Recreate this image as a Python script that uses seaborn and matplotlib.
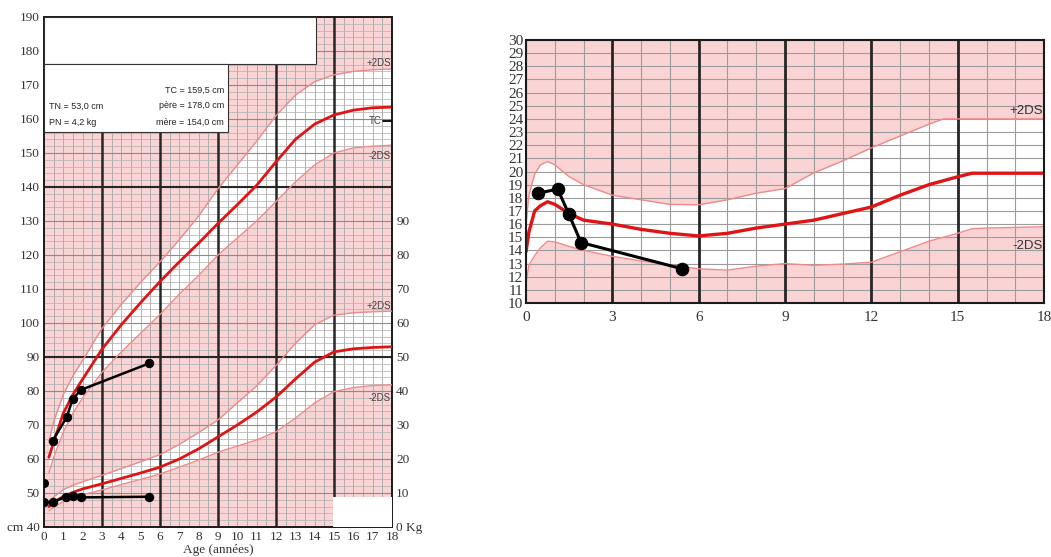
import numpy as np
import matplotlib
matplotlib.use('Agg')
import matplotlib.pyplot as plt
import seaborn as sns
from matplotlib.patches import Rectangle

# reference curves, height / weight chart
ages_ref = [0.25, 0.5, 1, 1.5, 2, 3, 4, 5, 6, 7, 8, 9, 10, 11, 12, 13, 14, 15, 16, 17, 18]
height_med = [60.5, 65, 73.5, 79, 83.5, 92.3, 99.5, 106, 112.2, 118, 123.5, 129.3, 134.8,
              140.5, 147.4, 154, 158.5, 161.2, 162.6, 163.3, 163.5]
height_hi = [65, 71, 79, 84.5, 89, 98.4, 105.5, 112, 118, 124.5, 131.5, 139.5, 146.5,
             153.5, 161, 167, 171, 173, 174, 174.5, 174.7]
height_lo = [56, 60.5, 68, 73.5, 78, 85.5, 91.5, 97, 102.5, 108.5, 114, 120, 125,
             130, 135.7, 141.5, 146.5, 150, 151.5, 152, 152.3]
weight_med = [6, 7.3, 9, 10.2, 11.2, 12.7, 14.3, 15.9, 17.6, 20, 23, 26.5, 30, 33.8,
              38.2, 43.5, 48.5, 51.5, 52.4, 52.8, 53]
weight_hi = [7.5, 8.8, 11, 12.3, 13.3, 15.2, 17.2, 19.2, 21.3, 24.3, 27.8, 31.5, 36.5,
             41.5, 47.5, 54, 59.5, 62.3, 63, 63.3, 63.5]
weight_lo = [4.8, 5.8, 7.5, 8.5, 9.5, 10.9, 12.5, 14, 15.6, 17.6, 19.7, 22, 23.8, 25.6,
             28, 32, 36.5, 39.8, 41, 41.6, 41.8]

# patient measurements
pt_h_age = [0.45, 1.17, 1.48, 1.9, 5.43]
pt_height = [65.4, 72.3, 77.6, 80.3, 88.1]
pt_w_age = [0.45, 1.14, 1.52, 1.9, 5.43]
pt_weight = [7.3, 8.9, 9.2, 8.7, 8.9]
birth_height = 53.0
birth_weight_dot = 7.4
TC = 159.5

# BMI chart
bmi_age = [0, 0.1, 0.3, 0.5, 0.75, 1, 1.5, 2, 3, 4, 5, 6, 7, 8, 9, 10, 11, 12, 13, 14,
           14.5, 15, 15.5, 16, 17, 18]
bmi_med = [13.9, 15.4, 17.0, 17.4, 17.7, 17.5, 16.8, 16.3, 16.0, 15.6, 15.3, 15.1, 15.3,
           15.7, 16.0, 16.3, 16.8, 17.3, 18.2, 19.0, 19.3, 19.6, 19.87, 19.87, 19.87, 19.87]
bmi_hi = [16, 18.2, 19.8, 20.5, 20.76, 20.5, 19.6, 19.0, 18.2, 17.85, 17.5, 17.47, 17.85,
          18.35, 18.7, 19.9, 20.8, 21.8, 22.7, 23.6, 24.0, 24.0, 24.0, 24.0, 24.0, 24.0]
bmi_lo = [11.5, 12.9, 13.6, 14.2, 14.7, 14.65, 14.3, 14.0, 13.55, 13.2, 12.9, 12.6, 12.5,
          12.8, 13.0, 12.86, 12.96, 13.1, 13.9, 14.7, 15.0, 15.3, 15.65, 15.7, 15.75, 15.8]
pt_bmi_age = [0.42, 1.10, 1.48, 1.91, 5.43]
pt_bmi = [18.35, 18.66, 16.8, 14.6, 12.6]

sns.set_theme(style='white')
plt.rcParams['font.family'] = ['Liberation Serif', 'DejaVu Serif']

PINK = '#fad4d4'
RED = '#e01414'
PALE = '#f08a8a'
THIN = '#a6a6a6'
HEAVY = '#262626'
SANS = ['Liberation Sans', 'DejaVu Sans']

fig = plt.figure(figsize=(10.51, 5.57), dpi=100)

# ---------------- height / weight chart ----------------
ax = fig.add_axes([0.0419, 0.0539, 0.3311, 0.9156])
ax.set_facecolor(PINK)
ax.set_xlim(0, 18)
ax.set_ylim(40, 190)
ax2 = ax.twinx()
ax2.set_ylim(0, 150)

ax.fill_between(ages_ref, height_lo, height_hi, color='white', lw=0, zorder=0.5)
ax.fill_between(ages_ref, weight_lo, weight_hi, color='white', lw=0, zorder=0.5,
                transform=ax2.transData)

for x in np.arange(0, 18.01, 0.5):
    ax.axvline(x, color=THIN, lw=0.6, zorder=1)
for y in range(40, 191, 2):
    ax.axhline(y, color='#b4b4b4', lw=0.55, zorder=1)
for y in range(50, 190, 10):
    ax.axhline(y, color='#8c8c8c', lw=0.8, zorder=1.1)
for y in (90, 140):
    ax.axhline(y, color=HEAVY, lw=1.5, zorder=1.2)
for x in range(3, 18, 3):
    ax.axvline(x, color=HEAVY, lw=1.8, zorder=1.2)

sns.lineplot(x=ages_ref, y=height_hi, ax=ax, color=PALE, lw=1, zorder=2)
sns.lineplot(x=ages_ref, y=height_lo, ax=ax, color=PALE, lw=1, zorder=2)
sns.lineplot(x=ages_ref, y=height_med, ax=ax, color=RED, lw=2, zorder=2.1)
sns.lineplot(x=pt_h_age, y=pt_height, ax=ax, color='black', lw=1.8, marker='o',
             markersize=6, markeredgecolor='black', zorder=3)
ax.scatter([0], [birth_height], s=30, color='black', zorder=3)

sns.lineplot(x=ages_ref, y=weight_hi, ax=ax2, color=PALE, lw=1, zorder=2)
sns.lineplot(x=ages_ref, y=weight_lo, ax=ax2, color=PALE, lw=1, zorder=2)
sns.lineplot(x=ages_ref, y=weight_med, ax=ax2, color=RED, lw=2, zorder=2.1)
sns.lineplot(x=pt_w_age, y=pt_weight, ax=ax2, color='black', lw=1.8, marker='o',
             markersize=6, markeredgecolor='black', zorder=3)
ax2.scatter([0], [birth_weight_dot], s=30, color='black', zorder=3)

# information boxes
ax.add_patch(Rectangle((0, 0.9078), 0.7816, 0.0922, transform=ax.transAxes,
                       facecolor='white', edgecolor='#333333', lw=0.8, zorder=5))
ax.add_patch(Rectangle((0, 0.7745), 0.5287, 0.1333, transform=ax.transAxes,
                       facecolor='white', edgecolor='#333333', lw=0.8, zorder=5))
ax.add_patch(Rectangle((0.83, 0), 0.17, 0.058, transform=ax.transAxes,
                       facecolor='white', edgecolor='none', zorder=5))
box_kw = dict(transform=ax.transAxes, fontsize=6.5, family=SANS, color='#222222',
              va='center', zorder=6)
ax.text(0.517, 0.857, 'TC = 159,5 cm', ha='right', **box_kw)
ax.text(0.0144, 0.8255, 'TN = 53,0 cm', ha='left', **box_kw)
ax.text(0.517, 0.8255, 'père = 178,0 cm', ha='right', **box_kw)
ax.text(0.0144, 0.794, 'PN = 4,2 kg', ha='left', **box_kw)
ax.text(0.517, 0.794, 'mère = 154,0 cm', ha='right', **box_kw)

lab_kw = dict(fontsize=7, family=SANS, color='#444444', ha='right', va='center', zorder=6)
ax.text(17.95, 176.5, '+2DS', **lab_kw)
ax.text(17.95, 149, '-2DS', **lab_kw)
ax.text(17.45, TC, 'TC', **lab_kw)
ax.plot([17.55, 18], [TC, TC], color='black', lw=1.3, zorder=6)
ax2.text(17.95, 65, '+2DS', **lab_kw)
ax2.text(17.95, 38, '-2DS', **lab_kw)

ax.set_xticks(range(0, 19))
ax.set_yticks(range(40, 191, 10))
ax.set_yticklabels(['cm 40'] + [str(v) for v in range(50, 191, 10)])
ax2.set_yticks(range(0, 100, 10))
ax2.set_yticklabels(['0 Kg'] + [str(v) for v in range(10, 100, 10)])
for a in (ax, ax2):
    a.tick_params(length=0, labelsize=9.5, labelcolor='#333333', pad=3)
    a.set_xlabel('')
    a.set_ylabel('')
for s in ax.spines.values():
    s.set_color('#1a1a1a')
    s.set_linewidth(1.4)
for s in ax2.spines.values():
    s.set_visible(False)
fig.text(0.2074, 0.001, 'Age (années)', ha='center', va='bottom', fontsize=9.5,
         color='#333333')

# ---------------- BMI chart ----------------
bx = fig.add_axes([0.5005, 0.456, 0.4929, 0.4722])
bx.set_facecolor(PINK)
bx.set_xlim(0, 18)
bx.set_ylim(10, 30)
bx.fill_between(bmi_age, bmi_lo, bmi_hi, color='white', lw=0, zorder=0.5)
for x in range(0, 19):
    bx.axvline(x, color='#9c9c9c', lw=0.8, zorder=1)
for y in range(10, 31):
    bx.axhline(y, color='#9c9c9c', lw=0.8, zorder=1)
for x in range(3, 18, 3):
    bx.axvline(x, color=HEAVY, lw=2, zorder=1.2)

sns.lineplot(x=bmi_age, y=bmi_hi, ax=bx, color=PALE, lw=1, zorder=2)
sns.lineplot(x=bmi_age, y=bmi_lo, ax=bx, color=PALE, lw=1, zorder=2)
sns.lineplot(x=bmi_age, y=bmi_med, ax=bx, color=RED, lw=2.4, zorder=2.1)
sns.lineplot(x=pt_bmi_age, y=pt_bmi, ax=bx, color='black', lw=2.2, marker='o',
             markersize=9, markeredgecolor='black', zorder=3)
bx.text(17.95, 24.6, '+2DS', fontsize=9.5, family=SANS, color='#333333', ha='right',
        va='center', zorder=6)
bx.text(17.95, 14.3, '-2DS', fontsize=9.5, family=SANS, color='#333333', ha='right',
        va='center', zorder=6)

bx.set_xticks(range(0, 19, 3))
bx.set_yticks(range(10, 31))
bx.tick_params(length=0, labelsize=11, labelcolor='#333333', pad=2)
bx.tick_params(axis='x', pad=6)
bx.set_xlabel('')
bx.set_ylabel('')
for s in bx.spines.values():
    s.set_color('#1a1a1a')
    s.set_linewidth(1.5)

fig.savefig('out.png', dpi=100)
